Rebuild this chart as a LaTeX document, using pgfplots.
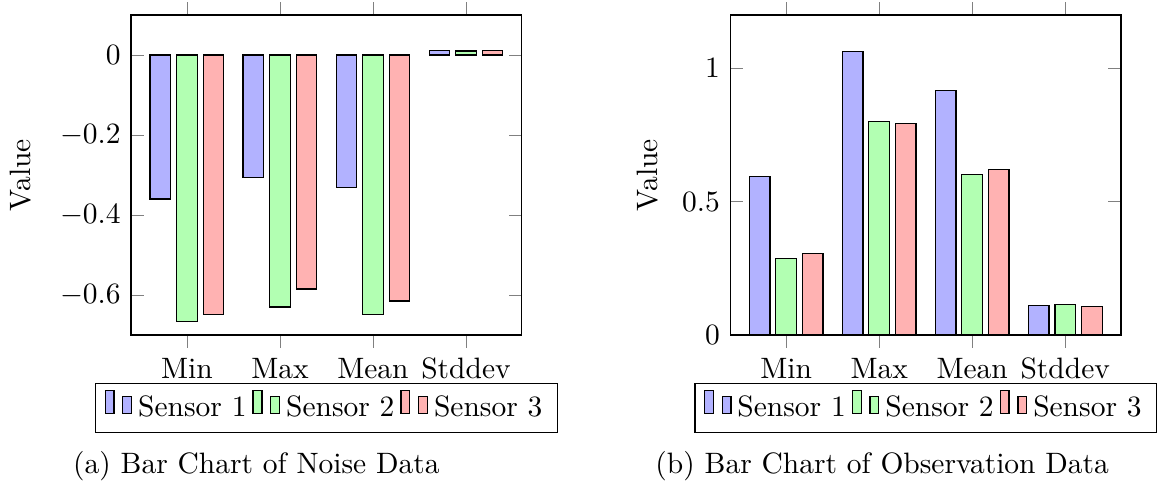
\documentclass[border=0pt]{standalone}
\usepackage{pgfplots}
\pgfplotsset{compat=1.18}
\begin{document}
\begin{tikzpicture}
    \pgfplotsset{
        sensorbars/.style={
            ybar=2pt,
            bar width=7pt,
            scale only axis,
            width=132.5pt, height=108.5pt,
            xmin=-0.6, xmax=3.6,
            xtick={0,1,2,3},
            xticklabels={Min, Max, Mean, Stddev},
            xtick align=outside,
            ylabel={Value},
            legend style={at={(0.5,-0.15)}, anchor=north, legend columns=-1},
        },
    }
    % fixed page size
    \path (-44.3pt,-51.5pt) rectangle (350.6pt,113.6pt);

    \begin{axis}[
        sensorbars,
        at={(0pt,0pt)},
        ymin=-0.7, ymax=0.1,
        ytick={-0.6,-0.4,-0.2,0},
        ylabel shift=3pt,
    ]
    \addplot[draw=black, fill=blue!30] coordinates {
        (0, -0.360) (1, -0.306) (2, -0.332) (3, 0.012)
    };
    \addlegendentry{Sensor 1}
    \addplot[draw=black, fill=green!30] coordinates {
        (0, -0.667) (1, -0.630) (2, -0.649) (3, 0.010)
    };
    \addlegendentry{Sensor 2}
    \addplot[draw=black, fill=red!30] coordinates {
        (0, -0.648) (1, -0.585) (2, -0.615) (3, 0.012)
    };
    \addlegendentry{Sensor 3}
    \end{axis}

    \begin{axis}[
        sensorbars,
        at={(203.2pt,0pt)},
        ymin=0, ymax=1.2,
        ytick={0,0.5,1},
        ylabel shift=1.3pt,
    ]
    \addplot[draw=black, fill=blue!30] coordinates {
        (0, 0.594) (1, 1.062) (2, 0.916) (3, 0.110)
    };
    \addlegendentry{Sensor 1}
    \addplot[draw=black, fill=green!30] coordinates {
        (0, 0.288) (1, 0.801) (2, 0.601) (3, 0.114)
    };
    \addlegendentry{Sensor 2}
    \addplot[draw=black, fill=red!30] coordinates {
        (0, 0.306) (1, 0.792) (2, 0.620) (3, 0.108)
    };
    \addlegendentry{Sensor 3}
    \end{axis}

    \node[anchor=base] at (42.5pt,-46.8pt) {(a) Bar Chart of Noise Data};
    \node[anchor=base] at (254.7pt,-46.8pt) {(b) Bar Chart of Observation Data};
\end{tikzpicture}
\end{document}
